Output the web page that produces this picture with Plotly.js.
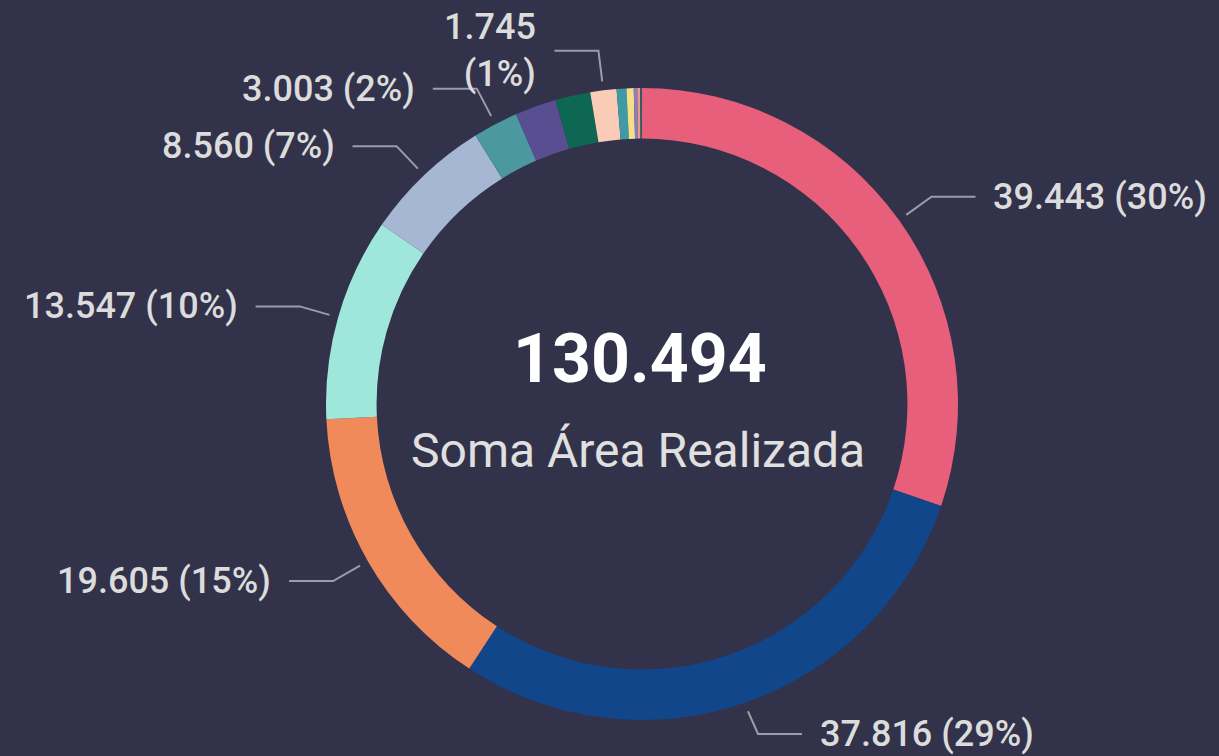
<!DOCTYPE html>
<html>
<head>
<meta charset="utf-8">
<script src="https://cdn.plot.ly/plotly-3.0.1.min.js"></script>
<style>
  html, body { margin: 0; padding: 0; background: #32334a; }
  #chart { width: 1219px; height: 756px; }
</style>
</head>
<body>
<div id="chart"></div>
<script>
// ---- data ----
const categories = ['Item 1', 'Item 2', 'Item 3', 'Item 4', 'Item 5', 'Item 6', 'Item 7',
                    'Item 8', 'Item 9', 'Item 10', 'Item 11', 'Item 12', 'Item 13', 'Item 14'];
const values = [39443, 37816, 19605, 13547, 8560, 3003, 2750, 2350, 1745, 650, 480, 230, 200, 115];
const colors = ['#E75F7A', '#12468B', '#F08A5B', '#A0E7DB', '#A6B7D3', '#4C98A0', '#5A4E93',
                '#0D6753', '#FACBB7', '#3E9AA5', '#F4E08A', '#8A7EC0', '#E89A8E', '#2A5E5A'];
const centerLabel = 'Soma Área Realizada';

// ---- layout constants ----
const W = 1219, H = 756;
const CX = 642, CY = 404, R = 316;
const BG = '#32334a';
const LINE = '#9c9cab';
const TEXT = '#dcdcdc';
const FS = 36, CHARW = 17.5, LINEH = 47, PAD = 10;

const total = values.reduce((a, b) => a + b, 0);
const fmt = v => Math.round(v).toString().replace(/\B(?=(\d{3})+(?!\d))/g, '.');

const px = p => p / W;
const py = p => 1 - p / H;

// candidate labels
const cands = [];
let cum = 0;
values.forEach((v, i) => {
  const frac = v / total;
  const mid = (cum + v / 2) / total * 2 * Math.PI;
  cum += v;
  if (frac < 0.01) return;
  const s = Math.sin(mid), c = Math.cos(mid);
  const x0 = CX + 325 * s, y0 = CY - 325 * c;
  const x1 = CX + 356 * s;
  const y1 = Math.min(Math.max(CY - 356 * c, 20), H - 22);
  const dir = s >= 0 ? 1 : -1;
  const x2 = x1 + dir * 44;
  const tx = x2 + dir * 16;
  const pct = Math.round(frac * 100) + '%';
  const nearTop = Math.abs(s) < 0.3 && c > 0;
  const lines = nearTop ? [fmt(v), '(' + pct + ')'] : [fmt(v) + ' (' + pct + ')'];
  const w = Math.max(...lines.map(l => l.length)) * CHARW;
  const h = lines.length * LINEH * 0.8;
  const box = dir > 0 ? [tx, tx + w] : [tx - w, tx];
  cands.push({ v, x0, y0, x1, y1, x2, tx, dir, lines,
               bx: box, by: [y1 - h / 2, y1 + h / 2] });
});

// place labels by value, skipping those that collide with already placed ones
const placed = [];
cands.slice().sort((a, b) => b.v - a.v).forEach(cd => {
  const hit = placed.some(p =>
    cd.bx[0] < p.bx[1] + PAD && cd.bx[1] + PAD > p.bx[0] &&
    cd.by[0] < p.by[1] && cd.by[1] > p.by[0]);
  if (!hit) placed.push(cd);
});

const shapes = [];
const annotations = [];
placed.forEach(cd => {
  shapes.push({
    type: 'path', xref: 'paper', yref: 'paper',
    path: `M ${px(cd.x0)} ${py(cd.y0)} L ${px(cd.x1)} ${py(cd.y1)} L ${px(cd.x2)} ${py(cd.y1)}`,
    line: { color: LINE, width: 2 }
  });
  annotations.push({
    xref: 'paper', yref: 'paper',
    x: px(cd.tx), y: py(cd.y1),
    xanchor: cd.dir > 0 ? 'left' : 'right', yanchor: 'middle',
    align: cd.dir > 0 ? 'left' : 'right',
    text: cd.lines.join('<br>'), showarrow: false,
    font: { family: 'Roboto, sans-serif', size: FS, color: TEXT, weight: 500 }
  });
});

annotations.push({
  xref: 'paper', yref: 'paper', x: px(640), y: py(359),
  xanchor: 'center', yanchor: 'middle', showarrow: false,
  text: '<b>' + fmt(total) + '</b>',
  font: { family: 'Roboto, sans-serif', size: 68, color: '#ffffff' }
});
annotations.push({
  xref: 'paper', yref: 'paper', x: px(638), y: py(451),
  xanchor: 'center', yanchor: 'middle', showarrow: false,
  text: centerLabel,
  font: { family: 'Roboto, sans-serif', size: 48, color: '#e0e0e0' }
});

const trace = {
  type: 'pie',
  labels: categories,
  values: values,
  sort: false,
  direction: 'clockwise',
  rotation: 0,
  hole: 0.84,
  textinfo: 'none',
  hoverinfo: 'label+value+percent',
  marker: { colors: colors, line: { width: 0 } },
  domain: {
    x: [(CX - R) / W, (CX + R) / W],
    y: [(H - CY - R) / H, (H - CY + R) / H]
  },
  showlegend: false
};

const layout = {
  width: W, height: H,
  margin: { l: 0, r: 0, t: 0, b: 0, pad: 0 },
  paper_bgcolor: BG,
  plot_bgcolor: BG,
  showlegend: false,
  shapes: shapes,
  annotations: annotations
};

Plotly.newPlot('chart', [trace], layout, { displayModeBar: false, staticPlot: true });
</script>
</body>
</html>
